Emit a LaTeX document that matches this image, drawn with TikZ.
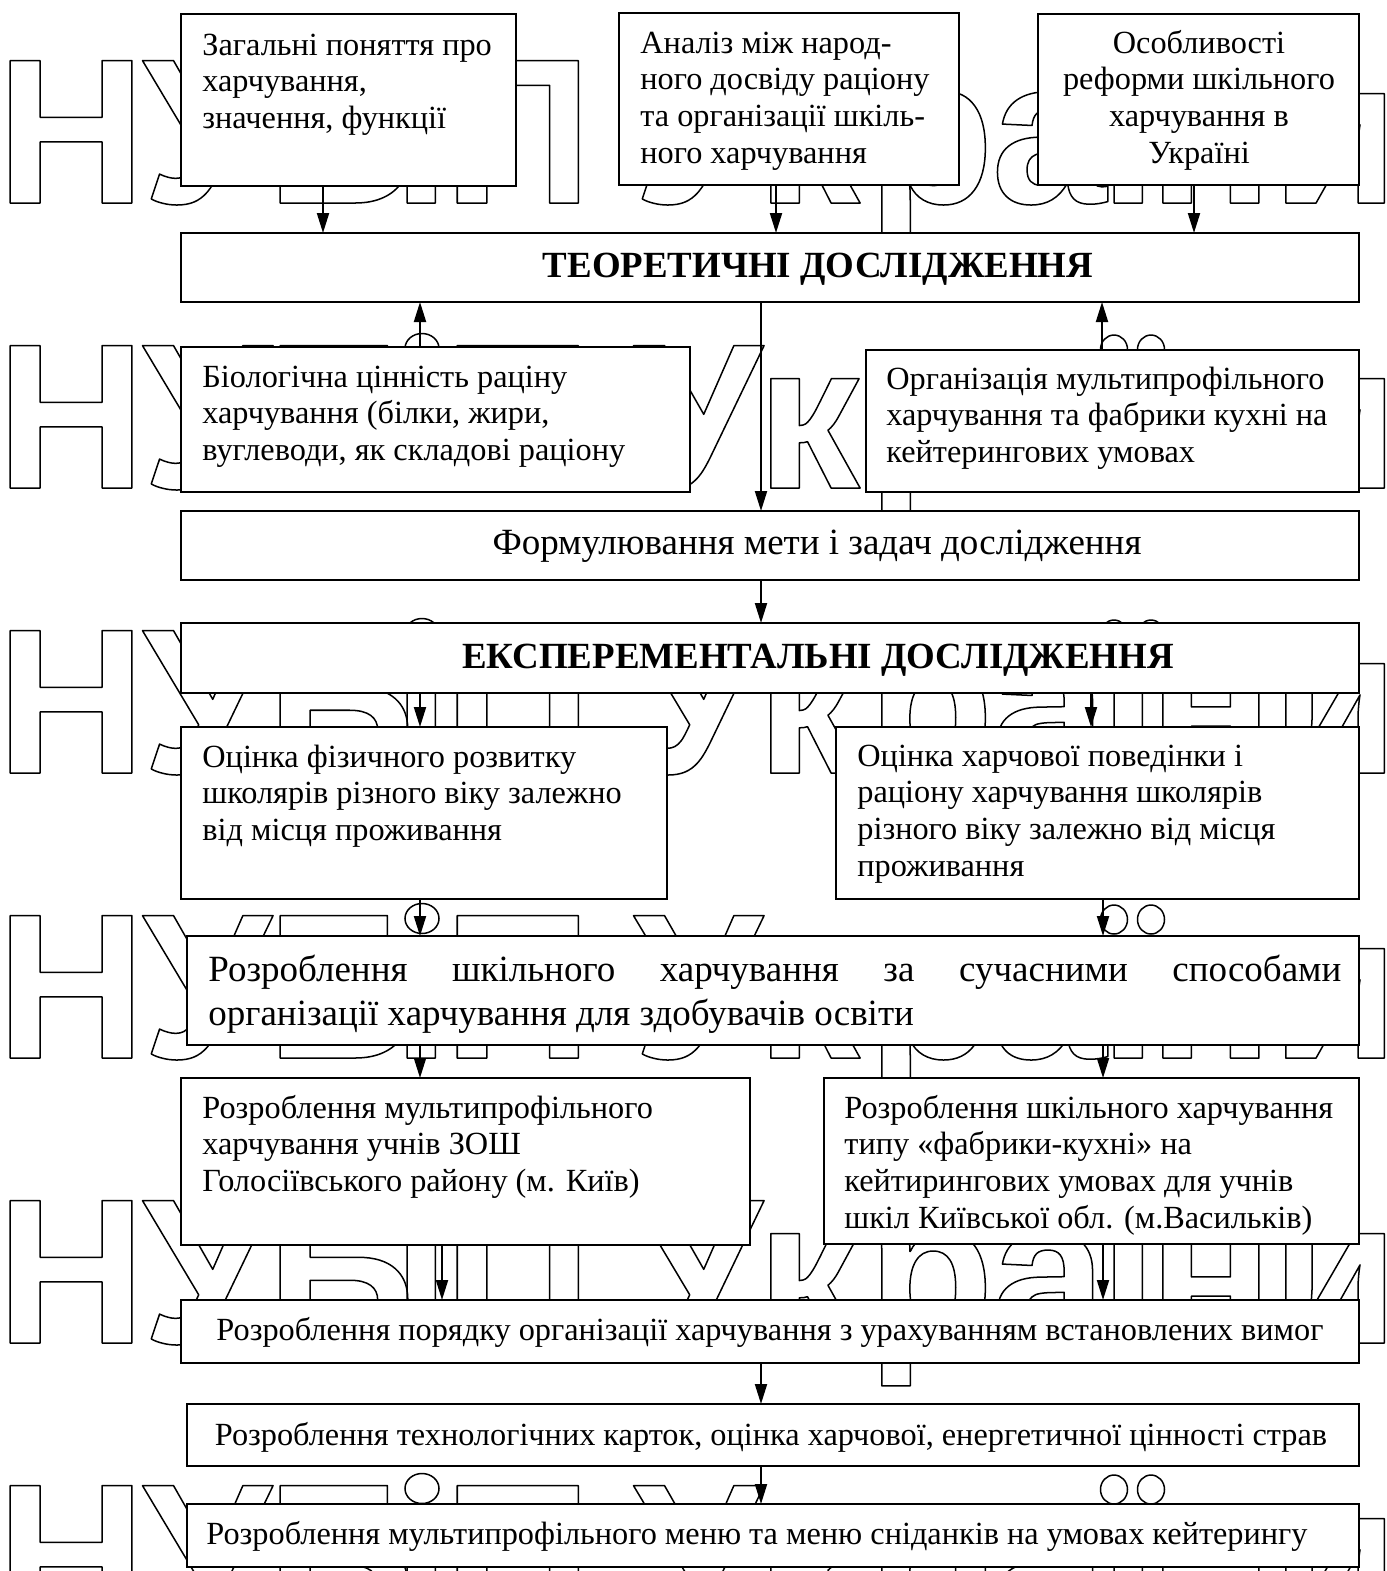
\documentclass[tikz,border=0pt]{standalone}
\usepackage{fontspec}
\setmainfont{Liberation Serif}
\newfontfamily\wmfont{Liberation Sans}
\usetikzlibrary{arrows.meta}
\newcommand\bodysize{\fontsize{16.15pt}{18.4pt}\selectfont}
\newcommand\bigsize{\fontsize{18.5pt}{21.8pt}\selectfont}
\newcommand\headsize{\fontsize{18.45pt}{21.8pt}\selectfont}
\newcommand\wmsize{\fontsize{103.5pt}{120pt}\selectfont}
\newcommand\wmglyph[1]{\special{pdf:literal direct 1 Tr 0.75 w 1 j}#1\special{pdf:literal direct 0 Tr}}
\newcommand\mkbx[5]{\node[box, minimum width={(#4-#2)*0.5pt}, minimum height={(#5-#3)*0.5pt}] (#1) at (#2,#3) {};}
\tikzset{
  box/.style={draw, line width=1pt, fill=white, inner sep=0pt, outer sep=0pt, anchor=north west},
  arr/.style={-{Triangle[length=10pt,width=6pt]}, line width=1pt},
  txt/.style={inner sep=0pt, anchor=base west, align=left, font=\bodysize},
  ctxt/.style={inner sep=0pt, anchor=base, align=center, font=\bodysize},
  head/.style={inner sep=0pt, anchor=base, font=\headsize\bfseries},
  wm/.style={inner sep=0pt, anchor=base west, font=\wmfont\bfseries\wmsize},
  wmdot/.style={line width=0.75pt},
}
\begin{document}
\begin{tikzpicture}[x=0.5pt,y=-0.5pt]
\useasboundingbox[fill=white] (0,0) rectangle (1387,1571);
% watermark "НУБіП України", six rows
\foreach \k in {0,...,5}{
  \foreach \c/\x [count=\i] in {Н/-4, У/142, Б/266, ı/392, П/443, У/633, к/756, р/867, а/991, ı/1099, н/1148, и/1271}{
    \node[wm] (w\k-\i) at (\x,{203+285*\k}) {\wmglyph{\c}};
  }
  \draw[wmdot] (422,{63.5+285*\k}) ellipse [x radius=17, y radius=15];
  \draw[wmdot] (1114,{64.5+285*\k}) ellipse [x radius=13.5, y radius=14.5];
  \draw[wmdot] (1151,{64.5+285*\k}) ellipse [x radius=13.5, y radius=14.5];
}
% boxes
\mkbx{A}{181}{14}{516}{186}
\mkbx{B}{619}{13}{959}{185}
\mkbx{C}{1038}{14}{1359}{185}
\mkbx{T}{181}{233}{1359}{302}
\mkbx{D}{181}{347}{690}{492}
\mkbx{E}{866}{350}{1359}{492}
\mkbx{F}{181}{511}{1359}{580}
\mkbx{G}{181}{623}{1359}{693}
\mkbx{H}{181}{727}{667}{899}
\mkbx{I}{836}{727}{1359}{899}
\mkbx{J}{187}{936}{1359}{1045}
\mkbx{K}{181}{1078}{750}{1245}
\mkbx{L}{824}{1078}{1359}{1244}
\mkbx{M}{181}{1300}{1359}{1363}
\mkbx{N}{187}{1404}{1359}{1466}
\mkbx{O}{187}{1504}{1359}{1567}
% texts (anchor = baseline of the last line)
\node[txt] (At) at (202,128.6) {Загальні поняття про\\харчування,\\значення, функції};
\node[txt] (Bt) at (640,163.4) {Аналіз між народ-\\ного досвіду раціону\\та організації шкіль-\\ного харчування};
\node[ctxt] (Ct) at (1199,163.4) {Особливості\\реформи шкільного\\харчування в\\Україні};
\node[head] (Tt) at (818,277) {ТЕОРЕТИЧНІ ДОСЛІДЖЕННЯ};
\node[txt] (Dt) at (202,460.6) {Біологічна цінність раціну\\харчування (білки, жири,\\вуглеводи, як складові раціону};
\node[txt] (Et) at (886,462.6) {Організація мультипрофільного\\харчування та фабрики кухні на\\кейтерингових умовах};
\node[ctxt, font=\bigsize] (Ft) at (817,554) {Формулювання мети і задач дослідження};
\node[head] (Gt) at (818,668) {ЕКСПЕРЕМЕНТАЛЬНІ ДОСЛІДЖЕННЯ};
\node[txt] (Ht) at (202,840.6) {Оцінка фізичного розвитку\\школярів різного віку залежно\\від місця проживання};
\node[txt] (It) at (857,876.4) {Оцінка харчової поведінки і\\раціону харчування школярів\\різного віку залежно від місця\\проживання};
\node[txt, font=\bigsize] (Jt) at (208,1025) {\hbox to 566.5pt{Розроблення\hfill шкільного\hfill харчування\hfill за\hfill сучасними\hfill способами}\\організації харчування для здобувачів освіти};
\node[txt] (Kt) at (202,1191.6) {Розроблення мультипрофільного\\харчування учнів ЗОШ\\Голосіївського району (м. Київ)};
\node[txt] (Lt) at (844,1228.4) {Розроблення шкільного харчування\\типу «фабрики-кухні» на\\кейтирингових умовах для учнів\\шкіл Київської обл. (м.Васильків)};
\node[ctxt] (Mt) at (770,1340) {Розроблення порядку організації харчування з урахуванням встановлених вимог};
\node[ctxt] (Nt) at (771,1445) {Розроблення технологічних карток, оцінка харчової, енергетичної цінності страв};
\node[txt] (Ot) at (206,1544) {Розроблення мультипрофільного меню та меню сніданків на умовах кейтерингу};
% arrows
\draw[arr] (A.south -| 323,0) -- (T.north -| 323,0);
\draw[arr] (B.south -| 776,0) -- (T.north -| 776,0);
\draw[arr] (C.south -| 1194,0) -- (T.north -| 1194,0);
\draw[arr] (D.north -| 420,0) -- (T.south -| 420,0);
\draw[arr] (E.north -| 1102,0) -- (T.south -| 1102,0);
\draw[arr] (T.south -| 761,0) -- (F.north -| 761,0);
\draw[arr] (F.south -| 761,0) -- (G.north -| 761,0);
\draw[arr] (G.south -| 420,0) -- (H.north -| 420,0);
\draw[arr] (G.south -| 1091,0) -- (I.north -| 1091,0);
\draw[arr] (H.south -| 420,0) -- (J.north -| 420,0);
\draw[arr] (I.south -| 1103,0) -- (J.north -| 1103,0);
\draw[arr] (J.south -| 420,0) -- (K.north -| 420,0);
\draw[arr] (J.south -| 1103,0) -- (L.north -| 1103,0);
\draw[arr] (K.south -| 442,0) -- (M.north -| 442,0);
\draw[arr] (L.south -| 1103,0) -- (M.north -| 1103,0);
\draw[arr] (M.south -| 761,0) -- (N.north -| 761,0);
\draw[arr] (N.south -| 761,0) -- (O.north -| 761,0);
\end{tikzpicture}
\end{document}
